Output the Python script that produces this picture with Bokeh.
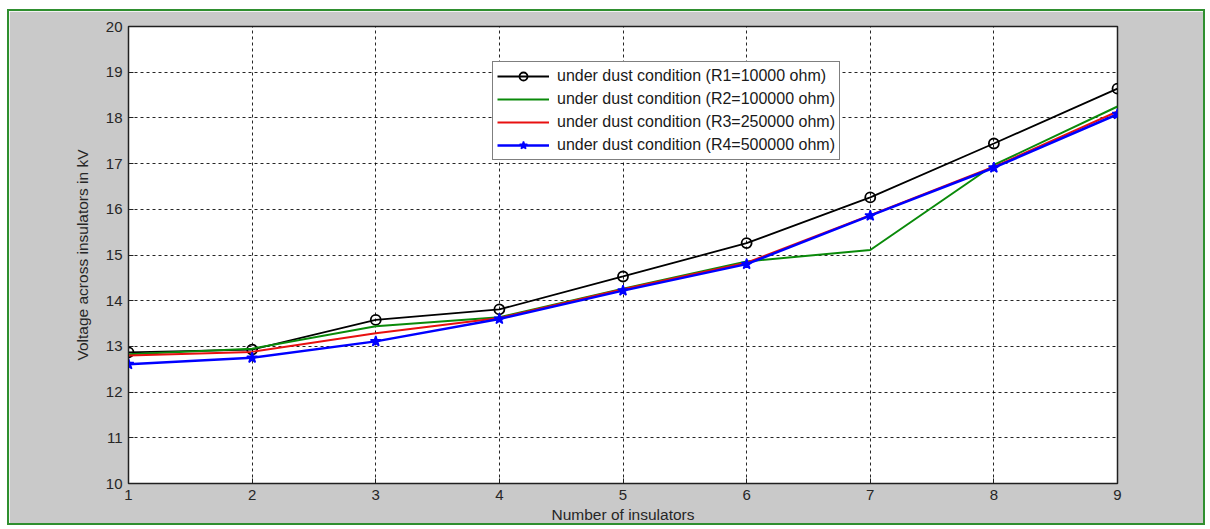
from bokeh.plotting import figure
from bokeh.models import Legend, LegendItem, FixedTicker, Range1d
from bokeh.embed import file_html
from bokeh.resources import INLINE

insulators = [1, 2, 3, 4, 5, 6, 7, 8, 9]
r1 = [12.87, 12.93, 13.58, 13.81, 14.53, 15.26, 16.26, 17.44, 18.64]
r2 = [12.83, 12.95, 13.44, 13.64, 14.26, 14.86, 15.11, 16.97, 18.25]
r3 = [12.80, 12.88, 13.29, 13.62, 14.25, 14.83, 15.87, 16.93, 18.14]
r4 = [12.61, 12.75, 13.11, 13.60, 14.22, 14.80, 15.86, 16.91, 18.08]
labels = ["under dust condition (R1=10000 ohm)",
          "under dust condition (R2=100000 ohm)",
          "under dust condition (R3=250000 ohm)",
          "under dust condition (R4=500000 ohm)"]
x_ticks = [1, 2, 3, 4, 5, 6, 7, 8, 9]
y_ticks = [10, 11, 12, 13, 14, 15, 16, 17, 18, 19, 20]

FONT = "Liberation Sans"
TXT = "#262626"
AX = "#202020"

p = figure(width=1198, height=516, output_backend="svg", toolbar_location=None,
           x_range=Range1d(1, 9), y_range=Range1d(10, 20),
           min_border_left=119, min_border_right=90, min_border_top=15, min_border_bottom=44,
           x_axis_label="Number of insulators", y_axis_label="Voltage across insulators in kV")
p.styles = {"border": "2px solid #2f8f2f", "margin-left": "7px", "margin-top": "9px"}
p.background_fill_color = "white"
p.border_fill_color = "#c9c9c9"
p.outline_line_color = AX
p.outline_line_width = 1.5
p.outline_line_alpha = 1

p.xaxis.ticker = FixedTicker(ticks=x_ticks)
p.yaxis.ticker = FixedTicker(ticks=y_ticks)

for ax in [p.xaxis[0], p.yaxis[0]]:
    ax.major_tick_in = 5
    ax.major_tick_out = 0
    ax.minor_tick_line_color = None
    ax.axis_line_color = AX
    ax.major_tick_line_color = AX
    ax.major_label_text_font = FONT
    ax.major_label_text_font_size = "15px"
    ax.major_label_text_color = TXT
    ax.axis_label_text_font = FONT
    ax.axis_label_text_font_size = "15.5px"
    ax.axis_label_text_font_style = "normal"
    ax.axis_label_text_color = TXT
p.xaxis.major_label_standoff = 6
p.xaxis.axis_label_standoff = 3
p.yaxis.major_label_standoff = 6
p.yaxis.axis_label_standoff = 12

p.grid.grid_line_color = "black"
p.grid.grid_line_dash = "3 3"
p.grid.grid_line_alpha = 0.85
p.grid.grid_line_width = 1

l1 = p.line(insulators, r1, line_color="black", line_width=1.8)
s1 = p.scatter(insulators, r1, marker="circle", size=10, fill_color=None,
               line_color="black", line_width=1.8)
l2 = p.line(insulators, r2, line_color="#0a8a0a", line_width=2)
l3 = p.line(insulators, r3, line_color="#e81010", line_width=2)
l4 = p.line(insulators, r4, line_color="#0000ff", line_width=2.5)
s4 = p.scatter(insulators, r4, marker="star", size=11, fill_color="#0000ff",
               line_color="#0000ff", line_width=1.5)

legend = Legend(items=[
    LegendItem(label=labels[0], renderers=[l1, s1]),
    LegendItem(label=labels[1], renderers=[l2]),
    LegendItem(label=labels[2], renderers=[l3]),
    LegendItem(label=labels[3], renderers=[l4, s4]),
], location=(364, 323))
legend.border_line_color = "black"
legend.border_line_width = 1
legend.background_fill_color = "white"
legend.background_fill_alpha = 1
legend.label_text_font = FONT
legend.label_text_font_size = "16px"
legend.label_text_color = "#1a1a1a"
legend.glyph_width = 52
legend.glyph_height = 20
legend.label_height = 20
legend.spacing = 3
legend.padding = 4
legend.margin = 0
legend.label_standoff = 8
p.add_layout(legend)

open("out.html", "w").write(file_html(p, INLINE))
